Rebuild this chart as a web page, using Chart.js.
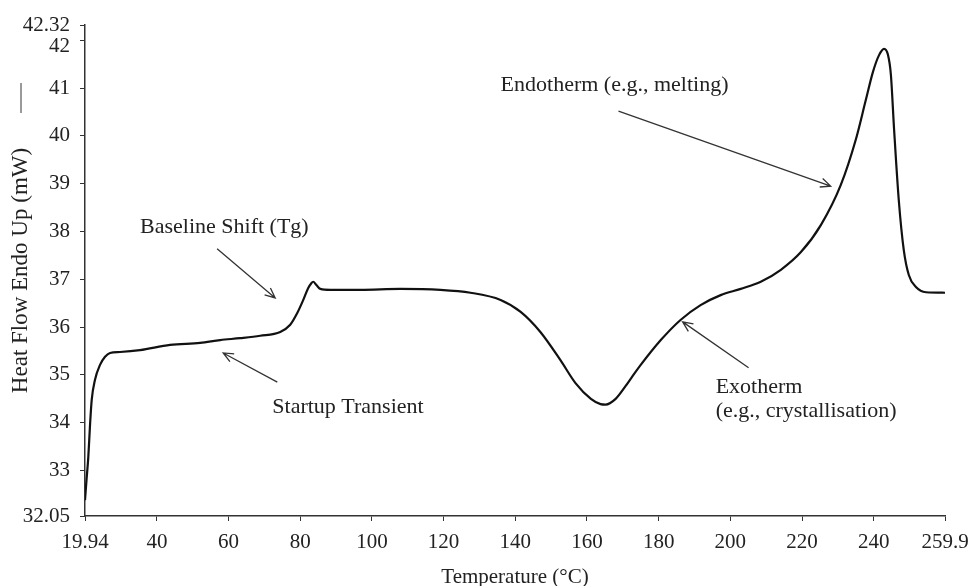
<!DOCTYPE html>
<html>
<head>
<meta charset="utf-8">
<script src="https://cdn.jsdelivr.net/npm/chart.js@4/dist/chart.umd.min.js"></script>
<style>
  html, body { margin: 0; padding: 0; background: #fff; }
  #wrap { width: 972px; height: 586px; }
</style>
</head>
<body>
<div id="wrap"><canvas id="dsc"></canvas></div>
<script>
// DSC thermogram: temperature (°C) against heat flow (mW, endo up)
const temperature = [
  19.94, 20.36, 20.86, 21.34, 21.81, 22.73, 24.13, 25.53, 26.92, 29.72,
  35.30, 43.68, 52.06, 57.65, 63.24, 68.82, 74.41, 77.20, 79.20, 80.85,
  82.23, 83.10, 83.60, 84.50, 85.60, 88.40, 96.80, 107.9, 119.1, 127.5,
  135.9, 141.5, 147.0, 152.6, 156.8, 161.1, 163.8, 165.2, 168.0, 170.8,
  172.2, 175.0, 180.6, 186.1, 191.7, 197.3, 202.9, 208.5, 214.1, 219.7,
  225.3, 230.8, 235.0, 237.8, 239.8, 241.5, 242.9, 244.0, 244.8, 245.7,
  247.0, 248.4, 249.8, 251.8, 254.6, 259.9
];
const heatFlow = [
  32.38, 32.80, 33.28, 33.95, 34.48, 34.90, 35.21, 35.38, 35.46, 35.48,
  35.52, 35.63, 35.67, 35.73, 35.77, 35.82, 35.90, 36.05, 36.30, 36.57,
  36.82, 36.92, 36.95, 36.88, 36.80, 36.78, 36.78, 36.80, 36.78, 36.72,
  36.57, 36.32, 35.90, 35.31, 34.83, 34.50, 34.39, 34.38, 34.50, 34.77,
  34.92, 35.21, 35.73, 36.15, 36.46, 36.67, 36.80, 36.95, 37.20, 37.57,
  38.14, 38.97, 39.92, 40.75, 41.34, 41.69, 41.82, 41.69, 41.28, 40.13,
  38.66, 37.61, 37.09, 36.84, 36.73, 36.72
];
const xTicks = [19.94, 40, 60, 80, 100, 120, 140, 160, 180, 200, 220, 240, 259.9];
const yTicks = [32.05, 33, 34, 35, 36, 37, 38, 39, 40, 41, 42, 42.32];

// Callout texts (left/middle anchor, data units)
const noteText = ["Endotherm (e.g., melting)", "Baseline Shift (Tg)", "Startup Transient", "Exotherm", "(e.g., crystallisation)"];
const noteX = [135.9, 35.3, 72.2, 195.9, 195.9];
const noteY = [41.07, 38.08, 34.33, 34.74, 34.24];
// Callout arrows: tail -> head, data units
const arrowFromX = [168.8, 56.8, 73.6, 205.1];
const arrowFromY = [40.52, 37.64, 34.85, 35.15];
const arrowToX = [228.0, 73.0, 58.5, 186.7];
const arrowToY = [38.95, 36.61, 35.46, 36.11];

const serif = "'Liberation Serif', 'Times New Roman', serif";
const ink = '#222';

const points = temperature.map((t, i) => ({ x: t, y: heatFlow[i] }));

const callouts = {
  id: 'callouts',
  afterDatasetsDraw(chart) {
    const { ctx, chartArea, scales: { x, y } } = chart;
    ctx.save();
    ctx.fillStyle = ink;
    ctx.font = '22px ' + serif;
    ctx.textAlign = 'left';
    ctx.textBaseline = 'middle';
    noteText.forEach((t, i) => {
      ctx.fillText(t, x.getPixelForValue(noteX[i]), y.getPixelForValue(noteY[i]));
    });
    ctx.strokeStyle = '#333';
    ctx.lineWidth = 1.3;
    arrowFromX.forEach((_, i) => {
      const x0 = x.getPixelForValue(arrowFromX[i]);
      const y0 = y.getPixelForValue(arrowFromY[i]);
      const x1 = x.getPixelForValue(arrowToX[i]);
      const y1 = y.getPixelForValue(arrowToY[i]);
      const a = Math.atan2(y1 - y0, x1 - x0);
      const h = 11, spread = 0.42;
      ctx.beginPath();
      ctx.moveTo(x0, y0);
      ctx.lineTo(x1, y1);
      ctx.moveTo(x1 - h * Math.cos(a - spread), y1 - h * Math.sin(a - spread));
      ctx.lineTo(x1, y1);
      ctx.lineTo(x1 - h * Math.cos(a + spread), y1 - h * Math.sin(a + spread));
      ctx.stroke();
    });
    // short grey key stroke above the vertical axis title
    ctx.strokeStyle = '#9a9a9a';
    ctx.lineWidth = 2;
    ctx.beginPath();
    ctx.moveTo(21, chartArea.top + 58);
    ctx.lineTo(21, chartArea.top + 88);
    ctx.stroke();
    ctx.restore();
  }
};

new Chart(document.getElementById('dsc'), {
  type: 'line',
  data: {
    datasets: [{
      data: points,
      borderColor: '#111',
      borderWidth: 2.2,
      pointRadius: 0,
      fill: false,
      cubicInterpolationMode: 'monotone'
    }]
  },
  options: {
    responsive: true,
    maintainAspectRatio: false,
    animation: false,
    layout: { padding: { left: 0, right: 27, top: 25, bottom: 0 } },
    plugins: { legend: { display: false }, tooltip: { enabled: false } },
    scales: {
      x: {
        type: 'linear',
        min: 19.94,
        max: 259.9,
        afterBuildTicks(s) { s.ticks = xTicks.map(v => ({ value: v })); },
        afterFit(s) { s.height = 70; s.paddingLeft = 0; s.paddingRight = 0; },
        border: { display: true, color: '#333', width: 1.5 },
        grid: { drawOnChartArea: false, drawTicks: true, tickLength: 5, color: '#333' },
        ticks: {
          color: ink,
          font: { family: serif, size: 21 },
          padding: 9,
          maxRotation: 0,
          autoSkip: false,
          callback: v => String(v)
        },
        title: {
          display: true,
          text: 'Temperature (°C)',
          color: ink,
          font: { family: serif, size: 21, lineHeight: 1 },
          padding: { top: 0, bottom: -2 }
        }
      },
      y: {
        type: 'linear',
        min: 32.05,
        max: 42.32,
        afterBuildTicks(s) { s.ticks = yTicks.map(v => ({ value: v })); },
        afterFit(s) { s.width = 85; },
        border: { display: true, color: '#333', width: 1.5 },
        grid: { drawOnChartArea: false, drawTicks: true, tickLength: 5, color: '#333' },
        ticks: {
          color: ink,
          font: { family: serif, size: 21, lineHeight: 0.55 },
          padding: 10,
          autoSkip: false,
          // the "42" label sits a little lower so it clears the end value above it
          callback: v => (v === 42 ? ['', '42'] : String(v))
        },
        title: {
          display: true,
          text: 'Heat Flow Endo Up (mW)',
          color: ink,
          font: { family: serif, size: 23, lineHeight: 1 },
          padding: { top: 9, bottom: 0 }
        }
      }
    }
  },
  plugins: [callouts]
});
</script>
</body>
</html>
